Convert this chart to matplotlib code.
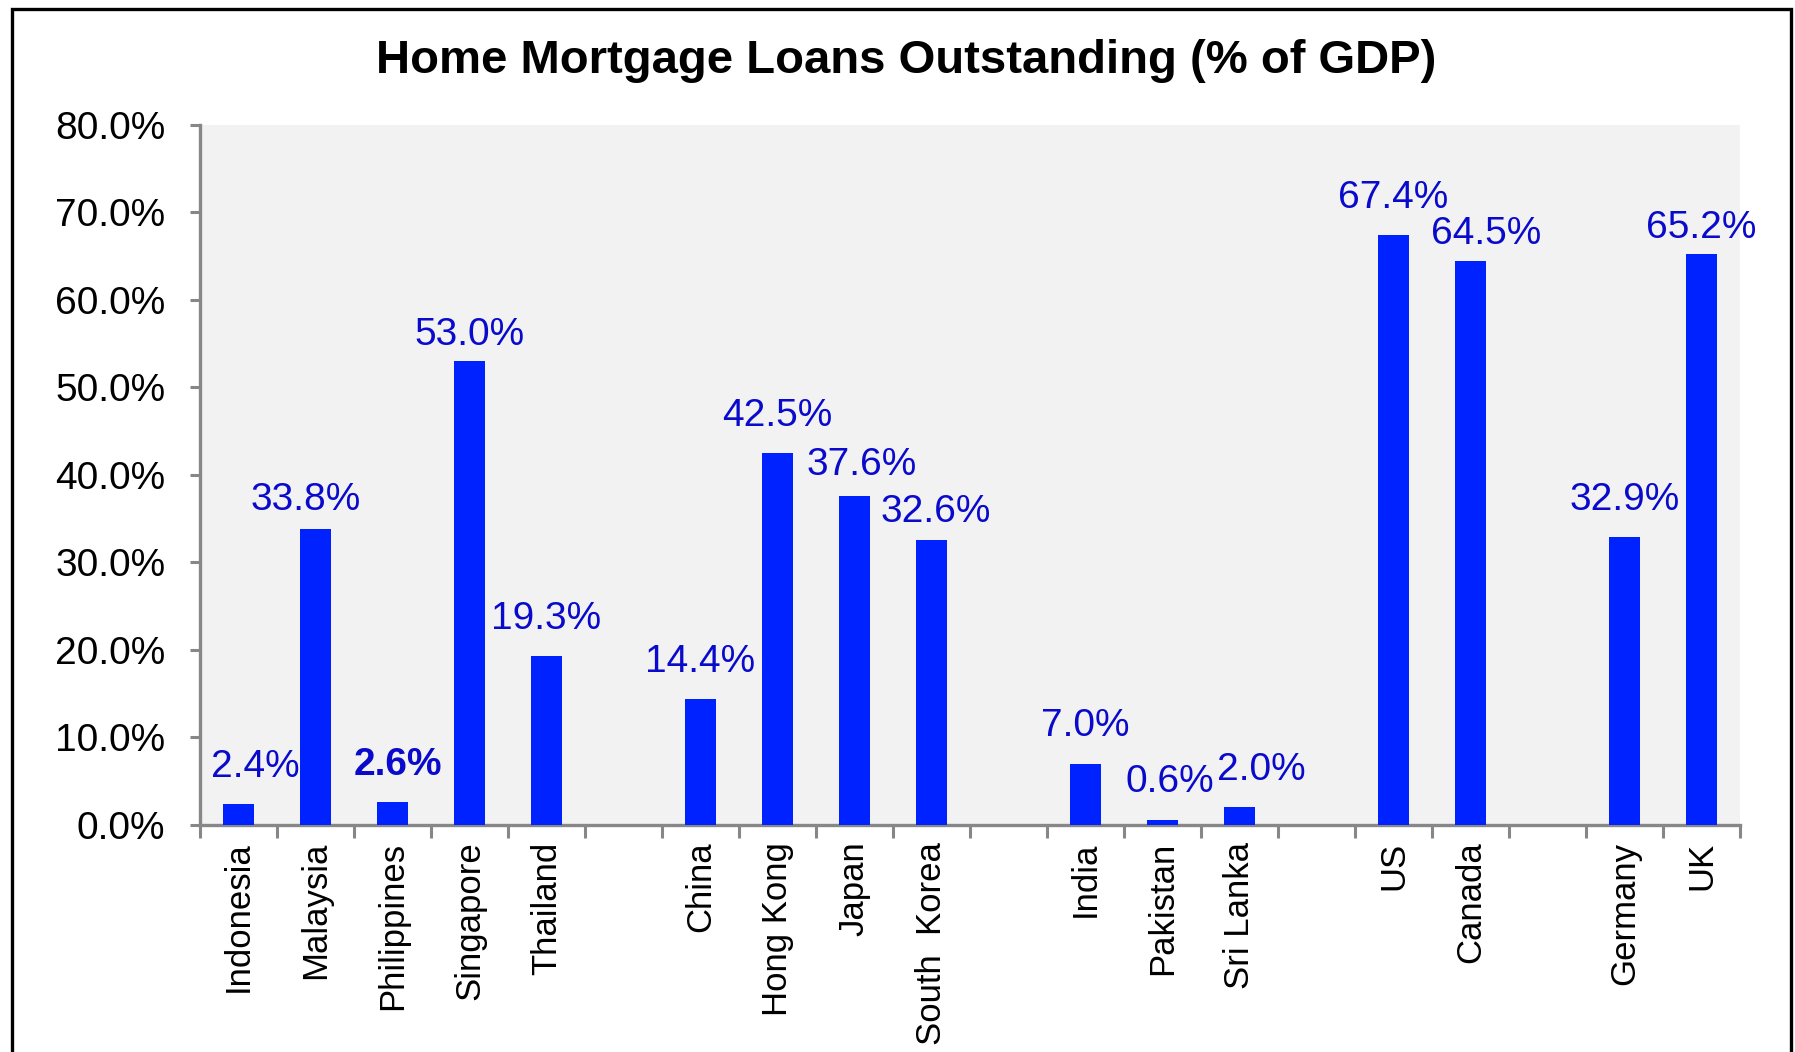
import matplotlib.pyplot as plt
from matplotlib.patches import Rectangle
from matplotlib.ticker import FuncFormatter, FixedLocator

plt.rcParams["font.family"] = ["Liberation Sans", "DejaVu Sans"]

countries = [
    "Indonesia", "Malaysia", "Philippines", "Singapore", "Thailand",
    "China", "Hong Kong", "Japan", "South  Korea",
    "India", "Pakistan", "Sri Lanka",
    "US", "Canada",
    "Germany", "UK",
]
mortgage_pct = [2.4, 33.8, 2.6, 53.0, 19.3,
                14.4, 42.5, 37.6, 32.6,
                7.0, 0.6, 2.0,
                67.4, 64.5,
                32.9, 65.2]
group_sizes = [5, 4, 3, 2, 2]

BAR_COLOR = "#0022ff"
LABEL_COLOR = "#0a0acc"
AXIS_GRAY = "#878787"

# slot positions: one empty slot between regional groups
positions = []
slot = 0
for size in group_sizes:
    positions.extend(range(slot, slot + size))
    slot += size + 1
n_slots = slot - 1

# hand nudges for the value labels (x in slots, y in points)
label_dx = {"Indonesia": 0.22, "Malaysia": -0.13, "Philippines": 0.07,
            "Japan": 0.1, "South  Korea": 0.05, "Pakistan": 0.1,
            "Sri Lanka": 0.28, "Canada": 0.21}
label_dy = {"Malaysia": 8, "Singapore": 6, "Japan": 9, "South  Korea": 7,
            "Canada": 6, "UK": 6}

fig = plt.figure(figsize=(17.95, 10.52), dpi=100)
ax = fig.add_axes([0.1114, 0.2158, 0.8579, 0.6654])
ax.set_facecolor("#f2f2f2")

ax.bar(positions, mortgage_pct, width=0.4, color=BAR_COLOR, zorder=3)

for name, x, v in zip(countries, positions, mortgage_pct):
    ax.annotate(f"{v:.1f}%", (x + label_dx.get(name, 0.0), v),
                xytext=(0, label_dy.get(name, 14)), textcoords="offset points",
                ha="center", va="bottom", fontsize=28, color=LABEL_COLOR,
                fontweight="bold" if name == "Philippines" else "normal",
                zorder=4)

ax.set_xlim(-0.5, n_slots - 0.5)
ax.set_ylim(0, 80)
ax.set_yticks(range(0, 81, 10))
ax.yaxis.set_major_formatter(FuncFormatter(lambda y, _: f"{y:.1f}%"))

ax.set_xticks(positions)
ax.set_xticklabels(countries, rotation=90, fontsize=25)
ax.xaxis.set_minor_locator(FixedLocator([i - 0.5 for i in range(n_slots + 1)]))
ax.tick_params(axis="x", which="major", length=0, pad=12)
ax.tick_params(axis="x", which="minor", length=9, width=2.2, color=AXIS_GRAY,
               direction="out")
ax.tick_params(axis="y", length=7, width=2.2, color=AXIS_GRAY, pad=18,
               labelsize=28)

for side in ("top", "right"):
    ax.spines[side].set_visible(False)
for side in ("left", "bottom"):
    ax.spines[side].set_color(AXIS_GRAY)
    ax.spines[side].set_linewidth(2.4)

fig.text(0.505, 0.942, "Home Mortgage Loans Outstanding (% of GDP)",
         ha="center", va="center", fontsize=34, fontweight="bold")

# outer chart frame (bottom edge falls below the canvas)
fig.add_artist(Rectangle((0.0065, -0.02), 0.9915, 1.011,
                         transform=fig.transFigure, fill=False,
                         edgecolor="black", linewidth=2.4))

fig.savefig("out.png", dpi=100)
